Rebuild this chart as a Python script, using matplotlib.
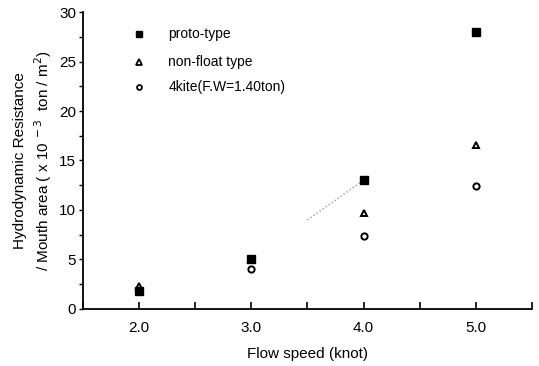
import numpy as np
import matplotlib
matplotlib.use('Agg')
import matplotlib.pyplot as plt
from matplotlib.ticker import MultipleLocator

plt.rcParams['font.family'] = ['Liberation Sans', 'DejaVu Sans']

# data
speed = [2.0, 3.0, 4.0, 5.0]
proto_type = [1.8, 5.0, 13.0, 28.0]
non_float = [2.3, 4.9, 9.7, 16.6]
kite4 = [1.9, 4.0, 7.4, 12.4]
xtick_labels = ['2.0', '3.0', '4.0', '5.0']

fig = plt.figure(figsize=(5.39, 3.66), dpi=100)
ax = fig.add_axes([0.154, 0.156, 0.833, 0.811])

# faint dotted trend piece between the proto-type points at 3.5 and 4.0 knot
seg_x = np.array([3.5, 4.0])
seg_y = np.interp(seg_x, speed, proto_type)
ax.plot(seg_x, seg_y, color='#999999', linestyle=':', linewidth=1.0, zorder=1)

ax.plot(speed, kite4, linestyle='none', marker='o', markersize=4.5,
        markerfacecolor='white', markeredgecolor='black', markeredgewidth=1.4, zorder=2)
ax.plot(speed, non_float, linestyle='none', marker='^', markersize=4.5,
        markerfacecolor='white', markeredgecolor='black', markeredgewidth=1.4, zorder=2)
ax.plot(speed, proto_type, linestyle='none', marker='s', markersize=6,
        color='black', zorder=3)

# legend drawn by hand like in the figure
leg_y = [27.8, 25.0, 22.4]
ax.plot(2.0, leg_y[0], marker='s', markersize=5, color='black', clip_on=False)
ax.plot(2.0, leg_y[1], marker='^', markersize=4, markerfacecolor='white',
        markeredgecolor='black', markeredgewidth=1.3, clip_on=False)
ax.plot(2.0, leg_y[2], marker='o', markersize=3.5, markerfacecolor='white',
        markeredgecolor='black', markeredgewidth=1.3, clip_on=False)
for yy, txt in zip(leg_y, ['proto-type', 'non-float type', '4kite(F.W=1.40ton)']):
    ax.text(2.26, yy, txt, fontsize=10, va='center', ha='left')

ax.set_xlim(1.5, 5.5)
ax.set_ylim(0, 30)
ax.set_xticks(speed)
ax.set_xticklabels(xtick_labels)
ax.xaxis.set_minor_locator(MultipleLocator(0.5))
ax.yaxis.set_major_locator(MultipleLocator(5))
ax.yaxis.set_minor_locator(MultipleLocator(2.5))

ax.spines['top'].set_visible(False)
ax.spines['right'].set_visible(False)
ax.spines['left'].set_linewidth(1.3)
ax.spines['bottom'].set_linewidth(1.3)

ax.tick_params(axis='x', which='both', direction='in', length=5, width=1.2, labelsize=11, pad=9)
ax.tick_params(axis='y', which='both', direction='out', length=3, width=1.0, labelsize=11, pad=2)

ax.set_xlabel('Flow speed (knot)', fontsize=11, labelpad=8)
ax.set_ylabel('Hydrodynamic Resistance\n/ Mouth area ( x 10$^{\\ -3}$  ton / m$^{2}$)',
              fontsize=11, labelpad=4, linespacing=1.3)

plt.savefig('out.png', dpi=100)
